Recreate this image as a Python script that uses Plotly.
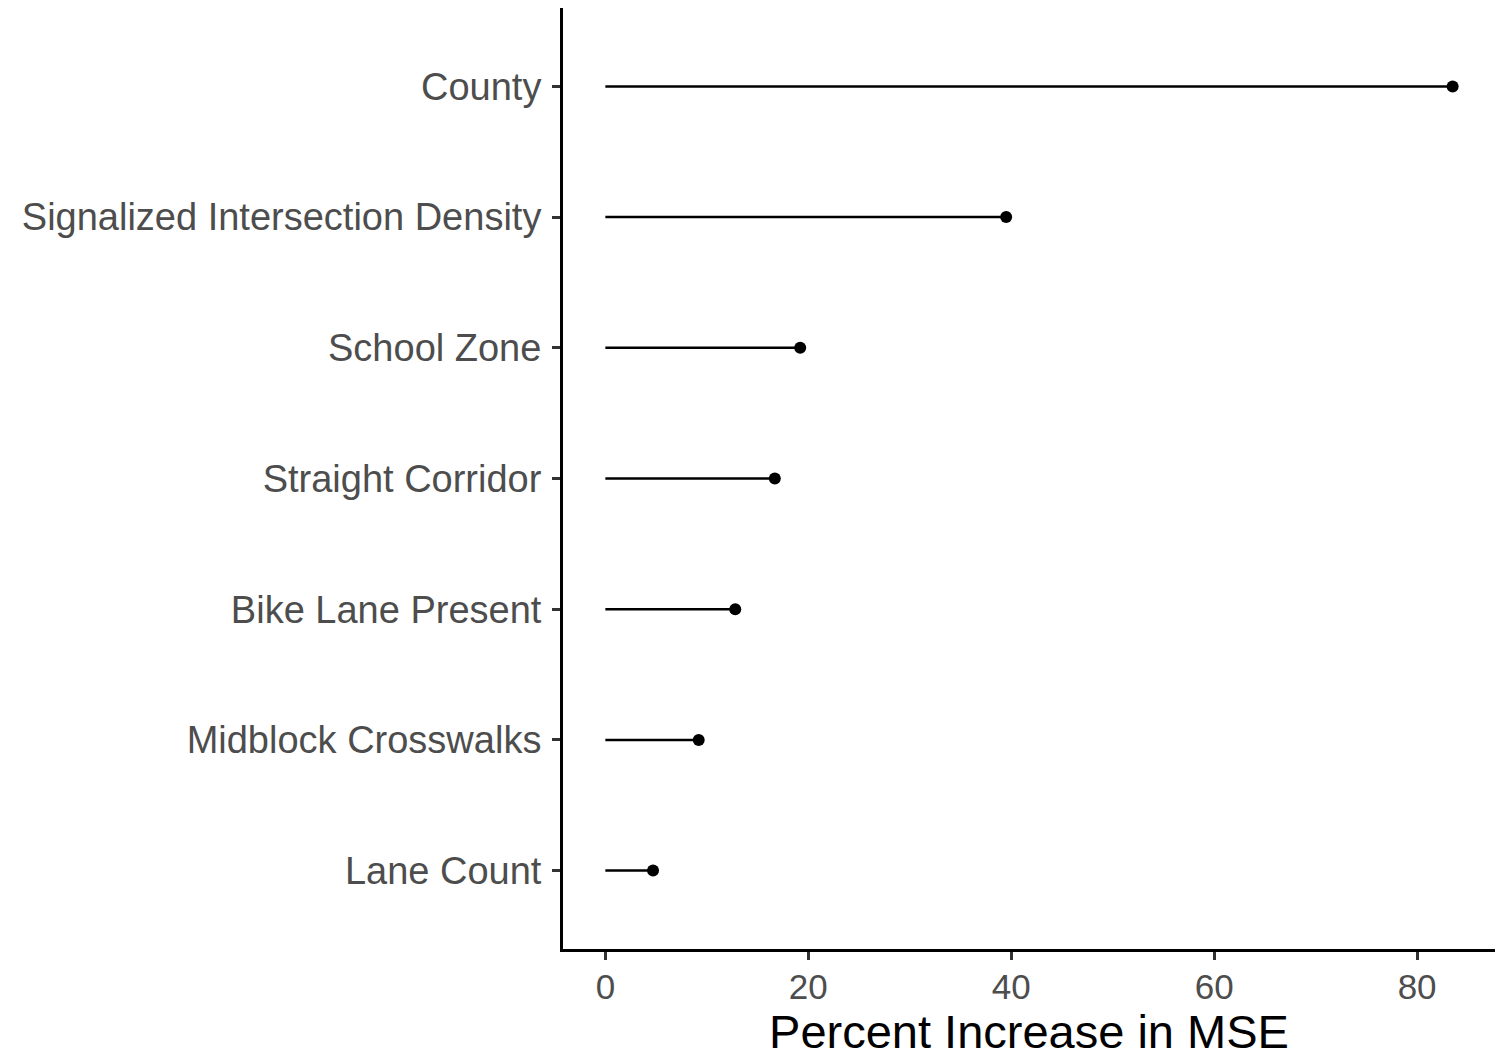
import plotly.graph_objects as go

features = ["County", "Signalized Intersection Density", "School Zone",
            "Straight Corridor", "Bike Lane Present", "Midblock Crosswalks", "Lane Count"]
pct_inc_mse = [83.5, 39.5, 19.2, 16.7, 12.8, 9.2, 4.7]
x_ticks = [0, 20, 40, 60, 80]

seg_x, seg_y = [], []
for f, v in zip(features, pct_inc_mse):
    seg_x += [0, v, None]
    seg_y += [f, f, None]

fig = go.Figure()
fig.add_trace(go.Scatter(x=seg_x, y=seg_y, mode="lines",
                         line=dict(color="black", width=2.5), hoverinfo="skip", showlegend=False))
fig.add_trace(go.Scatter(x=pct_inc_mse, y=features, mode="markers",
                         marker=dict(color="black", size=12), showlegend=False))

lo, hi = 0, max(pct_inc_mse)
pad = 0.05 * (hi - lo)
n = len(features)

fig.update_layout(
    width=1504, height=1058,
    margin=dict(l=563, r=9, t=8, b=109),
    paper_bgcolor="white", plot_bgcolor="white",
    font=dict(family="Liberation Sans, Arial, sans-serif"),
    xaxis=dict(range=[lo - pad, hi + pad], tickvals=x_ticks, showgrid=False, zeroline=False,
               showline=True, linecolor="black", linewidth=3,
               ticks="outside", ticklen=8, tickwidth=3, tickcolor="#333333",
               tickfont=dict(size=35, color="#4D4D4D"), ticklabelstandoff=-3,
               title=dict(text="Percent Increase in MSE", font=dict(size=47, color="black"), standoff=12)),
    yaxis=dict(type="category", categoryorder="array", categoryarray=features[::-1],
               range=[-0.6, n - 1 + 0.6], showgrid=False, zeroline=False,
               showline=True, linecolor="black", linewidth=3,
               ticks="outside", ticklen=8, tickwidth=3, tickcolor="#333333",
               tickfont=dict(size=38, color="#4D4D4D"), ticklabelstandoff=3),
)

fig.write_html("out.html")
